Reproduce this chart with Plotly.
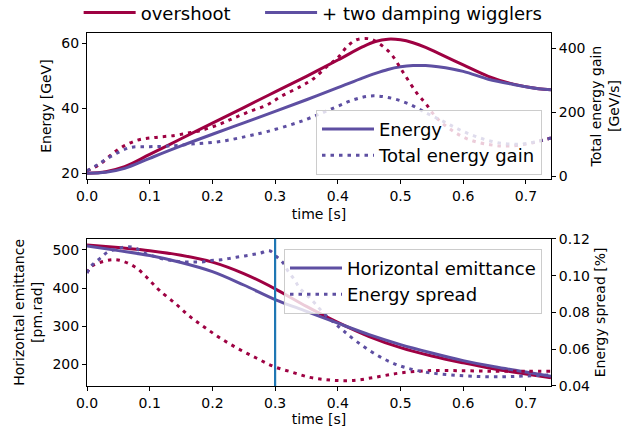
import plotly.graph_objects as go

# ---------------- data ----------------
RED = "#9e0142"
BLUE = "#5e4fa2"

# Energy [GeV]
t_energy = [0, 0.03, 0.06, 0.1, 0.15, 0.2, 0.25, 0.3, 0.35, 0.4, 0.44, 0.46, 0.48,
            0.5, 0.52, 0.54, 0.56, 0.6, 0.64, 0.68, 0.72, 0.74]
energy_overshoot = [20.0, 20.5, 22.0, 25.8, 30.6, 35.4, 40.2, 45.0, 49.8, 54.8, 58.9,
                    60.5, 61.2, 61.0, 60.1, 58.7, 56.9, 53.3, 49.8, 47.4, 46.0, 45.7]
energy_wigglers = [20.0, 20.3, 21.5, 24.6, 28.4, 32.0, 35.5, 39.0, 42.6, 46.3, 49.3,
                   50.7, 51.9, 52.7, 53.1, 53.1, 52.7, 51.3, 48.9, 47.3, 46.0, 45.7]

# Total energy gain [GeV/s]
t_gain_over = [0, 0.02, 0.05, 0.08, 0.11, 0.14, 0.16, 0.181, 0.21, 0.234, 0.26, 0.287,
               0.31, 0.34, 0.36, 0.383, 0.40, 0.415, 0.43, 0.45, 0.465, 0.484, 0.505,
               0.526, 0.54, 0.558, 0.585, 0.611, 0.643, 0.67, 0.70, 0.72, 0.74]
gain_over = [18, 38, 85, 113, 122, 128, 135, 143, 162, 182, 203, 223, 250, 280, 303,
             343, 370, 405, 426, 429, 415, 384, 322, 260, 228, 182, 140, 114, 99, 95,
             101, 110, 120]
t_gain_wig = [0, 0.016, 0.04, 0.068, 0.1, 0.13, 0.167, 0.212, 0.254, 0.287, 0.34,
              0.393, 0.425, 0.452, 0.478, 0.51, 0.542, 0.569, 0.595, 0.627, 0.66,
              0.69, 0.715, 0.74]
gain_wig = [18, 36, 65, 90, 93, 95, 101, 109, 125, 140, 171, 213, 239, 251, 247, 229,
            197, 171, 145, 120, 104, 101, 108, 120]

# Horizontal emittance [pm.rad]
t_emit = [0, 0.05, 0.1, 0.15, 0.2, 0.25, 0.3, 0.35, 0.4, 0.45, 0.5, 0.55, 0.6, 0.65,
          0.7, 0.74]
emit_overshoot = [513, 506, 498, 486, 468, 438, 398, 352, 310, 273, 244, 222, 204, 188,
                  175, 165]
emit_wigglers = [510, 498, 485, 467, 443, 408, 370, 339, 308, 278, 252, 230, 210, 194,
                 180, 169]

# Energy spread [%]
t_spread_over = [0, 0.007, 0.023, 0.039, 0.052, 0.068, 0.081, 0.094, 0.105, 0.116, 0.14,
                 0.164, 0.188, 0.214, 0.241, 0.27, 0.297, 0.326, 0.355, 0.38, 0.404,
                 0.43, 0.452, 0.475, 0.5, 0.542, 0.6, 0.654, 0.7, 0.74]
spread_over = [0.1015, 0.105, 0.1074, 0.1086, 0.1083, 0.1063, 0.1036, 0.0995, 0.0956,
               0.0918, 0.0851, 0.0778, 0.0718, 0.0657, 0.0603, 0.0552, 0.0507, 0.0476,
               0.0447, 0.0435, 0.0429, 0.0432, 0.0443, 0.0457, 0.0471, 0.0483, 0.0483,
               0.048, 0.048, 0.048]
t_spread_wig = [0, 0.007, 0.02, 0.033, 0.049, 0.063, 0.077, 0.092, 0.108, 0.12, 0.137,
                0.153, 0.17, 0.183, 0.198, 0.214, 0.23, 0.246, 0.262, 0.276, 0.291,
                0.302, 0.313, 0.321, 0.331, 0.339, 0.352, 0.363, 0.377, 0.395, 0.409,
                0.43, 0.457, 0.484, 0.51, 0.542, 0.579, 0.622, 0.664, 0.696, 0.74]
spread_wig = [0.1014, 0.1053, 0.1091, 0.1128, 0.1146, 0.1157, 0.1150, 0.1122, 0.1104,
              0.1091, 0.1081, 0.1074, 0.1074, 0.1074, 0.1082, 0.1086, 0.1095, 0.1104,
              0.1113, 0.1122, 0.1135, 0.1104, 0.1068, 0.1022, 0.0977, 0.0932, 0.0890,
              0.0851, 0.0797, 0.0741, 0.0700, 0.0642, 0.0579, 0.0530, 0.0498, 0.0474,
              0.0461, 0.0452, 0.0450, 0.0454, 0.0460]

VLINE_T = 0.3

# ---------------- figure ----------------
LW = 3
DOT = "3.5px,5px"

fig = go.Figure()

# top panel: energy (left axis) and energy gain (right axis)
fig.add_trace(go.Scatter(x=t_energy, y=energy_overshoot, mode="lines", name="overshoot",
                         line=dict(color=RED, width=LW, shape="spline"),
                         xaxis="x", yaxis="y", legend="legend"))
fig.add_trace(go.Scatter(x=t_energy, y=energy_wigglers, mode="lines",
                         name="+ two damping wigglers",
                         line=dict(color=BLUE, width=LW, shape="spline"),
                         xaxis="x", yaxis="y", legend="legend4"))
fig.add_trace(go.Scatter(x=t_gain_over, y=gain_over, mode="lines", showlegend=False,
                         line=dict(color=RED, width=LW, dash=DOT, shape="spline"),
                         xaxis="x", yaxis="y2"))
fig.add_trace(go.Scatter(x=t_gain_wig, y=gain_wig, mode="lines", showlegend=False,
                         line=dict(color=BLUE, width=LW, dash=DOT, shape="spline"),
                         xaxis="x", yaxis="y2"))

# bottom panel: emittance (left) and energy spread (right)
fig.add_trace(go.Scatter(x=t_emit, y=emit_overshoot, mode="lines", showlegend=False,
                         line=dict(color=RED, width=LW, shape="spline"),
                         xaxis="x2", yaxis="y3"))
fig.add_trace(go.Scatter(x=t_emit, y=emit_wigglers, mode="lines", showlegend=False,
                         line=dict(color=BLUE, width=LW, shape="spline"),
                         xaxis="x2", yaxis="y3"))
fig.add_trace(go.Scatter(x=t_spread_over, y=spread_over, mode="lines", showlegend=False,
                         line=dict(color=RED, width=LW, dash=DOT, shape="spline"),
                         xaxis="x2", yaxis="y4"))
fig.add_trace(go.Scatter(x=t_spread_wig, y=spread_wig, mode="lines", showlegend=False,
                         line=dict(color=BLUE, width=LW, dash=DOT, shape="spline"),
                         xaxis="x2", yaxis="y4"))

# legend-only entries for the inner legends
fig.add_trace(go.Scatter(x=[None], y=[None], mode="lines", name="Energy",
                         line=dict(color=BLUE, width=LW), legend="legend2",
                         xaxis="x", yaxis="y"))
fig.add_trace(go.Scatter(x=[None], y=[None], mode="lines", name="Total energy gain",
                         line=dict(color=BLUE, width=LW, dash=DOT), legend="legend2",
                         xaxis="x", yaxis="y"))
fig.add_trace(go.Scatter(x=[None], y=[None], mode="lines", name="Horizontal emittance",
                         line=dict(color=BLUE, width=LW), legend="legend3",
                         xaxis="x2", yaxis="y3"))
fig.add_trace(go.Scatter(x=[None], y=[None], mode="lines", name="Energy spread",
                         line=dict(color=BLUE, width=LW, dash=DOT), legend="legend3",
                         xaxis="x2", yaxis="y3"))

fig.add_shape(type="line", xref="x2", yref="y3 domain", x0=VLINE_T, x1=VLINE_T,
              y0=0, y1=1, line=dict(color="#1f77b4", width=2.2), layer="above")

axis_common = dict(showline=True, linecolor="black", linewidth=1, ticks="outside",
                   ticklen=4, tickcolor="black", showgrid=False, zeroline=False,
                   tickfont=dict(size=14), title_font=dict(size=14))

top_legend = dict(orientation="h", y=1.057, yanchor="middle", xanchor="left",
                  font=dict(size=18), bgcolor="rgba(0,0,0,0)", itemwidth=52)
inner_legend = dict(xanchor="right", yanchor="top", font=dict(size=18),
                    bgcolor="rgba(255,255,255,0.8)", bordercolor="#cccccc",
                    borderwidth=1, itemwidth=52)

fig.update_layout(
    width=627, height=436,
    margin=dict(l=87, r=76, t=33, b=50, autoexpand=False),
    plot_bgcolor="white", paper_bgcolor="white",
    font=dict(family="DejaVu Sans", size=14, color="black"),
    xaxis=dict(domain=[0, 1], anchor="y", range=[0, 0.74], dtick=0.1, tickformat=".1f",
               mirror=True, title=dict(text="time [s]", standoff=6), **axis_common),
    yaxis=dict(domain=[0.586, 1], anchor="x", range=[18.2, 63.1], tickvals=[20, 40, 60],
               title=dict(text="Energy [GeV]", standoff=6), **axis_common),
    yaxis2=dict(overlaying="y", anchor="x", side="right", range=[-8, 447],
                tickvals=[0, 200, 400],
                title=dict(text="Total energy gain<br>[GeV/s]", standoff=6),
                **axis_common),
    xaxis2=dict(domain=[0, 1], anchor="y3", range=[0, 0.74], dtick=0.1,
                tickformat=".1f", mirror=True,
                title=dict(text="time [s]", standoff=4), **axis_common),
    yaxis3=dict(domain=[0, 0.417], anchor="x2", range=[143.5, 529],
                tickvals=[200, 300, 400, 500],
                title=dict(text="Horizontal emittance<br>[pm.rad]", standoff=6),
                **axis_common),
    yaxis4=dict(overlaying="y3", anchor="x2", side="right", range=[0.04, 0.12],
                tickvals=[0.04, 0.06, 0.08, 0.10, 0.12], tickformat=".2f",
                title=dict(text="Energy spread [%]", standoff=6), **axis_common),
    legend=dict(x=-0.018, **top_legend),
    legend4=dict(x=0.373, **top_legend),
    legend2=dict(x=0.9806, y=0.7827, **inner_legend),
    legend3=dict(x=0.9806, y=0.389, **inner_legend),
)

fig.write_html("out.html")
